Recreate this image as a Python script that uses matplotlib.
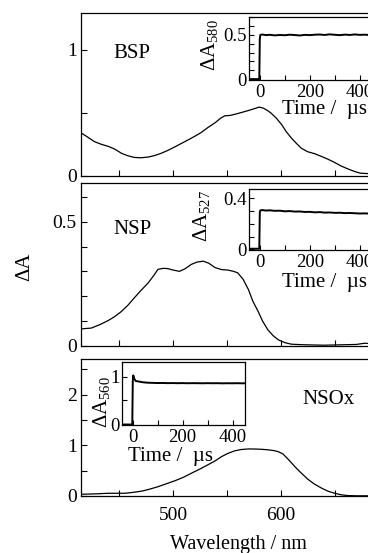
import numpy as np
import matplotlib
matplotlib.use("Agg")
import matplotlib.pyplot as plt
from matplotlib.ticker import MultipleLocator

plt.rcParams['font.family'] = ['Liberation Serif', 'DejaVu Serif']
plt.rcParams['mathtext.fontset'] = 'custom'
plt.rcParams['mathtext.rm'] = 'Liberation Serif'
plt.rcParams['mathtext.it'] = 'Liberation Serif:italic'

# transient absorption spectra (wavelength in nm, delta A)
bsp_wl = [415, 420, 427, 433, 440, 446, 452, 458, 464, 470, 477, 483, 489, 495,
          502, 508, 514, 520, 526, 532, 539, 544, 548, 553, 557, 563, 570, 575,
          580, 584, 588, 591, 596, 601, 605, 610, 615, 619, 625, 632, 638, 644,
          650, 656, 662, 669, 674, 678, 685]
bsp_dA = [0.337, 0.31, 0.27, 0.25, 0.232, 0.21, 0.178, 0.158, 0.145, 0.142, 0.148,
          0.16, 0.178, 0.2, 0.23, 0.257, 0.284, 0.312, 0.342, 0.38, 0.42, 0.455,
          0.475, 0.478, 0.486, 0.5, 0.517, 0.53, 0.544, 0.535, 0.515, 0.496, 0.455,
          0.403, 0.35, 0.297, 0.252, 0.218, 0.19, 0.173, 0.152, 0.13, 0.105, 0.077,
          0.055, 0.032, 0.02, 0.018, 0.015]

nsp_wl = [415, 424, 432, 440, 446, 452, 458, 464, 470, 477, 482, 486, 491, 495,
          500, 506, 511, 517, 522, 528, 533, 539, 545, 551, 556, 560, 565, 570,
          574, 579, 583, 588, 593, 598, 604, 610, 620, 630, 640, 650, 660, 670,
          678, 685]
nsp_dA = [0.068, 0.071, 0.085, 0.102, 0.118, 0.138, 0.163, 0.193, 0.222, 0.254,
          0.283, 0.308, 0.312, 0.311, 0.305, 0.3, 0.31, 0.328, 0.337, 0.341, 0.333,
          0.315, 0.307, 0.305, 0.3, 0.294, 0.268, 0.226, 0.18, 0.138, 0.1, 0.064,
          0.04, 0.023, 0.012, 0.006, 0.004, 0.003, 0.002, 0.003, 0.004, 0.005,
          0.01, 0.008]

nsox_wl = [415, 430, 440, 455, 463, 471, 478, 486, 494, 502, 510, 517, 525, 532,
           539, 545, 551, 557, 563, 570, 576, 582, 588, 594, 598, 602, 607, 613,
           619, 625, 631, 638, 644, 650, 656, 662, 670, 685]
nsox_dA = [0.03, 0.04, 0.05, 0.05, 0.068, 0.093, 0.13, 0.18, 0.24, 0.3, 0.37,
           0.447, 0.53, 0.61, 0.69, 0.775, 0.84, 0.888, 0.915, 0.927, 0.925, 0.92,
           0.91, 0.893, 0.87, 0.828, 0.72, 0.578, 0.45, 0.33, 0.235, 0.15, 0.09,
           0.05, 0.02, 0.005, 0.0, 0.0]

# kinetic traces (time in us, delta A)
bsp_t = [-42, -20, -2, 0, 2, 10, 25, 40, 60, 80, 100, 120, 140, 160, 180, 200,
         220, 240, 260, 280, 300, 320, 340, 360, 380, 400, 420, 440, 450]
bsp_k = [0.0, 0.0, 0.0, 0.46, 0.5, 0.505, 0.498, 0.502, 0.495, 0.5, 0.497, 0.503,
         0.499, 0.494, 0.501, 0.498, 0.503, 0.505, 0.5, 0.507, 0.502, 0.498, 0.504,
         0.5, 0.506, 0.501, 0.503, 0.499, 0.502]

nsp_t = [-42, -20, -2, 0, 2, 10, 25, 40, 60, 80, 100, 120, 140, 160, 180, 200,
         220, 240, 260, 280, 300, 320, 340, 360, 380, 400, 420, 440, 450]
nsp_k = [0.005, 0.005, 0.005, 0.29, 0.305, 0.308, 0.304, 0.306, 0.302, 0.303,
         0.298, 0.3, 0.296, 0.297, 0.293, 0.294, 0.29, 0.292, 0.288, 0.289, 0.286,
         0.287, 0.284, 0.285, 0.283, 0.281, 0.282, 0.28, 0.281]

nsox_t = [-40, -20, -2, 0, 2, 6, 12, 25, 40, 60, 80, 100, 120, 140, 160, 180,
          200, 220, 240, 260, 280, 300, 320, 340, 360, 380, 400, 420, 440, 450]
nsox_k = [-0.01, -0.01, -0.01, 0.9, 1.03, 0.96, 0.91, 0.9, 0.885, 0.875, 0.872,
          0.868, 0.87, 0.866, 0.868, 0.865, 0.867, 0.864, 0.866, 0.865, 0.863,
          0.866, 0.864, 0.865, 0.862, 0.864, 0.863, 0.865, 0.862, 0.864]

W, H = 368, 553
fig = plt.figure(figsize=(W / 100, H / 100), dpi=100)

def box(x0, y0, x1, y1):
    # pixel box (top-left origin) -> figure fraction rect
    return [x0 / W, 1 - y1 / H, (x1 - x0) / W, (y1 - y0) / H]

def put(x, y, s, **kw):
    # text at pixel position (top-left origin)
    return fig.text(x / W, 1 - y / H, s, **kw)

def style(ax, ticklen, size=14):
    for s in ax.spines.values():
        s.set_linewidth(0.9)
    ax.tick_params(which='both', direction='in', top=False, right=False,
                   length=ticklen, width=0.8, labelsize=size)

fmt = plt.FuncFormatter(lambda v, p: '%g' % v)

XL = (414.5, 700)
xr = 81 + (XL[1] - XL[0]) * 1.077

panels = [
    (box(81, 13, xr, 175.7), bsp_wl, bsp_dA, (0, 1.29), 1.0, 0.5),
    (box(81, 183.3, xr, 345.7), nsp_wl, nsp_dA, (0, 0.655), 0.5, 0.1),
    (box(81, 359.3, xr, 495.8), nsox_wl, nsox_dA, (0, 2.7), 1.0, 0.5),
]
axes = []
for rect, wl, dA, yl, maj, mnr in panels:
    ax = fig.add_axes(rect)
    ax.plot(wl, dA, color='black', lw=0.9)
    ax.set_xlim(*XL)
    ax.set_ylim(*yl)
    ax.xaxis.set_major_locator(MultipleLocator(100))
    ax.xaxis.set_minor_locator(MultipleLocator(50))
    ax.yaxis.set_major_locator(MultipleLocator(maj))
    ax.yaxis.set_minor_locator(MultipleLocator(mnr))
    ax.yaxis.set_major_formatter(fmt)
    style(ax, 4.5)
    ax.tick_params(axis='y', pad=3)
    axes.append(ax)

axes[0].tick_params(labelbottom=False)
axes[1].tick_params(labelbottom=False)
axes[2].tick_params(axis='x', pad=8)

put(113, 53, 'BSP', fontsize=15, va='center')
put(113, 230, 'NSP', fontsize=15, va='center')
put(302, 400, 'NSOx', fontsize=15, va='center')

put(25, 267, 'ΔA', fontsize=15, rotation=90, ha='center', va='center')
put(238, 545, 'Wavelength / nm', fontsize=14.5, ha='center', va='center')

TL = (-42, 450)
# rect, time, trace, ylim, major, minor, probe wavelength, xlabel pos, ylabel pos
insets = [
    (box(249.3, 17.3, 249.3 + 123, 80), bsp_t, bsp_k, (-0.01, 0.7), 0.5, 0.1,
     '580', (282, 109), (210, 45)),
    (box(249.3, 189, 249.3 + 123, 250), nsp_t, nsp_k, (-0.005, 0.473), 0.4, 0.1,
     '527', (282, 283), (202, 216)),
    (box(122.3, 361.7, 245, 425), nsox_t, nsox_k, (-0.02, 1.32), 1.0, 0.5,
     '560', (128, 456), (101, 402)),
]
for rect, t, k, yl, maj, mnr, wl, xlab, ylab in insets:
    ax = fig.add_axes(rect)
    ax.plot(t, k, color='black', lw=1.4)
    ax.set_xlim(*TL)
    ax.set_ylim(*yl)
    ax.xaxis.set_major_locator(MultipleLocator(200))
    ax.xaxis.set_minor_locator(MultipleLocator(100))
    ax.yaxis.set_major_locator(MultipleLocator(maj))
    ax.yaxis.set_minor_locator(MultipleLocator(mnr))
    ax.yaxis.set_major_formatter(fmt)
    style(ax, 3.5, size=13.5)
    ax.tick_params(axis='x', pad=3)
    ax.tick_params(axis='y', pad=2)
    put(xlab[0], xlab[1], 'Time /  µs', fontsize=15, va='center')
    put(ylab[0], ylab[1], 'ΔA$_{%s}$' % wl, fontsize=15, rotation=90,
        ha='center', va='center')

fig.savefig('out.png', dpi=100)
